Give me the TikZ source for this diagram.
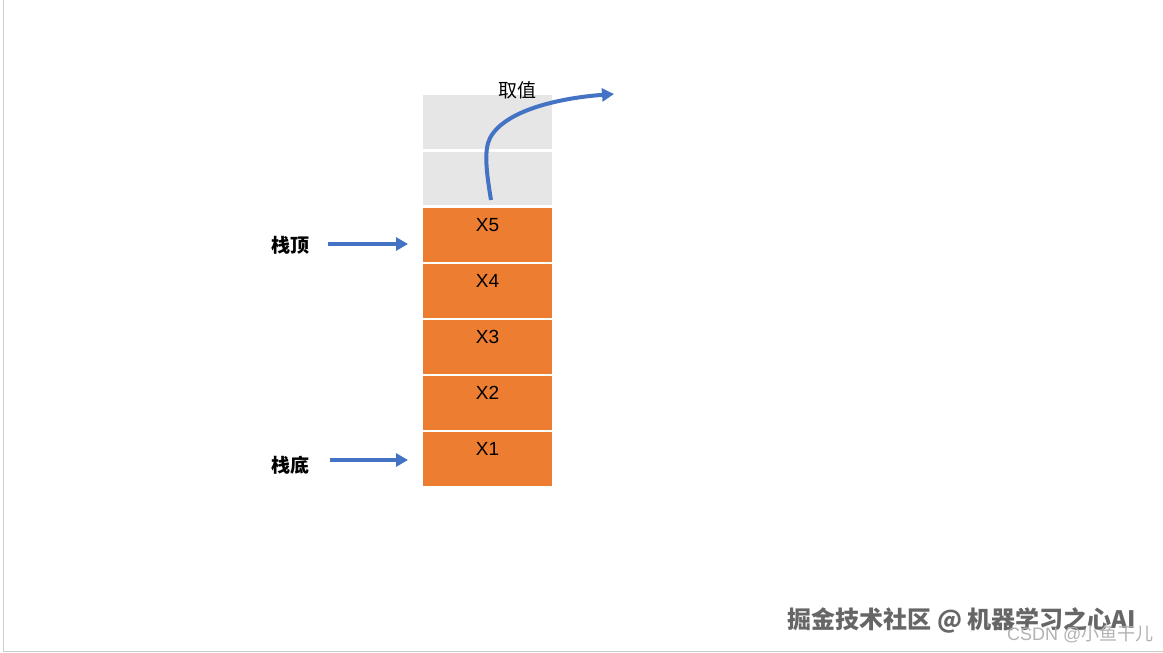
\documentclass[tikz,border=0pt]{standalone}
\usepackage{fontspec}
\setmainfont{Liberation Sans}
\newfontfamily\cjk{Noto Sans CJK SC}
\usetikzlibrary{arrows.meta}
\definecolor{cellgray}{HTML}{E6E6E6}
\definecolor{cellorange}{HTML}{ED7D31}
\definecolor{arrowblue}{HTML}{4472C4}
\begin{document}
\begin{tikzpicture}[x=1pt,y=-1pt,
  cell/.style={fill=#1,draw=white,line width=1.5pt},
  lbl/.style={font=\fontsize{19}{19}\selectfont},
  cjklbl/.style={font=\cjk\fontsize{19}{19}\selectfont},
  arr/.style={draw=arrowblue,line width=3.5pt,-{Triangle[length=12pt,width=13pt]}}]
\useasboundingbox (0,0) rectangle (1163,653);
\fill[white] (0,0) rectangle (1163,653);
\draw[gray!40,line width=1pt] (3,0) -- (3,651) -- (1163,651);
\fill[cell=cellgray] (422,94) rectangle (553,150);
\fill[cell=cellgray] (422,151) rectangle (553,206);
\foreach \i/\t in {0/X5,1/X4,2/X3,3/X2,4/X1}{
  \filldraw[cell=cellorange] (422,207+56*\i) rectangle (553,263+56*\i);
  \node[lbl] (c\i) at (487.5,225+56*\i) {\t};
}
\node[cjklbl,font=\cjk\bfseries\fontsize{19}{19}\selectfont] (top) at (290,245) {栈顶};
\node[cjklbl,font=\cjk\bfseries\fontsize{19}{19}\selectfont] (bot) at (290,465) {栈底};
\coordinate (ta) at (328,244); \coordinate (tb) at (408,244);
\coordinate (ba) at (330,460); \coordinate (bb) at (408,460);
\draw[arr] (ta) -- (tb);
\draw[arr] (ba) -- (bb);
\node[cjklbl] (qz) at (517,90) {取值};
\coordinate (s) at (491,200); \coordinate (e) at (614,94);
\draw[arr,line width=4pt] (s) .. controls (486,170) and (484,150) .. (490,138) .. controls (505,110) and (560,98) .. (e);
\node[font=\cjk\bfseries\fontsize{24}{24}\selectfont,text=gray!80!black] (wm) at (962,620) {掘金技术社区 @ 机器学习之心AI};
\node[font=\fontsize{18}{18}\selectfont,text=gray!60,anchor=east] (csdn) at (1157,634) {CSDN @{\cjk 小鱼干儿}};
\end{tikzpicture}
\end{document}
